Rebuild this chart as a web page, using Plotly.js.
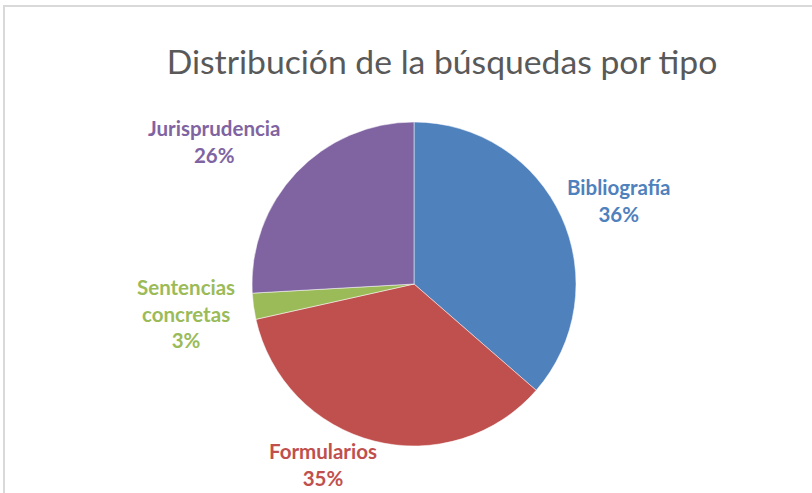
<!DOCTYPE html>
<html><head><meta charset="utf-8">
<script src="https://cdn.plot.ly/plotly-3.0.1.min.js"></script>
<style>html,body{margin:0;padding:0;background:#fff}#c{width:812px;height:493px}</style>
</head><body><div id="c"></div>
<script>
const categories = ["Bibliografía", "Formularios", "Sentencias concretas", "Jurisprudencia"];
const labelLines = ["Bibliografía", "Formularios", "Sentencias<br>concretas", "Jurisprudencia"];
const values = [36.4, 35.1, 2.6, 25.9];
const colors = ["#4F81BD", "#C0504D", "#9BBB59", "#8064A2"];
const W = 812, H = 493;
const labelPos = [[618, 200], [323, 464], [186, 313], [214, 141]];
const total = values.reduce((a, b) => a + b, 0);
const cx = 414, cy = 284, r = 162;

const annotations = categories.map((c, i) => ({
  text: "<b>" + labelLines[i] + "<br>" + Math.round(values[i] / total * 100) + "%</b>",
  x: labelPos[i][0] / W, y: 1 - labelPos[i][1] / H, xref: "paper", yref: "paper",
  xanchor: "center", yanchor: "middle", showarrow: false, align: "center",
  font: {family: "Lato, 'Open Sans', sans-serif", size: 20.5, color: colors[i]}
}));

Plotly.newPlot("c", [{
  type: "pie", labels: categories, values: values, sort: false,
  direction: "clockwise", rotation: 0, textinfo: "none", hoverinfo: "label+percent",
  marker: {colors: colors, line: {color: "#ffffff", width: 0.5}},
  domain: {x: [(cx - r) / W, (cx + r) / W], y: [(H - cy - r) / H, (H - cy + r) / H]},
  showlegend: false
}], {
  width: W, height: H, margin: {l: 0, r: 0, t: 0, b: 0},
  paper_bgcolor: "#ffffff",
  title: {text: "Distribución de la búsquedas por tipo", x: 442 / W, xanchor: "center", y: 1 - 62 / H, yanchor: "middle",
    font: {family: "Lato, 'Open Sans', sans-serif", size: 33.7, color: "#595959"}},
  annotations: annotations,
  shapes: [{type: "rect", xref: "paper", yref: "paper", x0: 4 / W, x1: 1.05, y0: -0.05, y1: 1 - 6 / H,
    line: {color: "#d9d9d9", width: 2}}]
}, {displayModeBar: false, staticPlot: true});
</script></body></html>
